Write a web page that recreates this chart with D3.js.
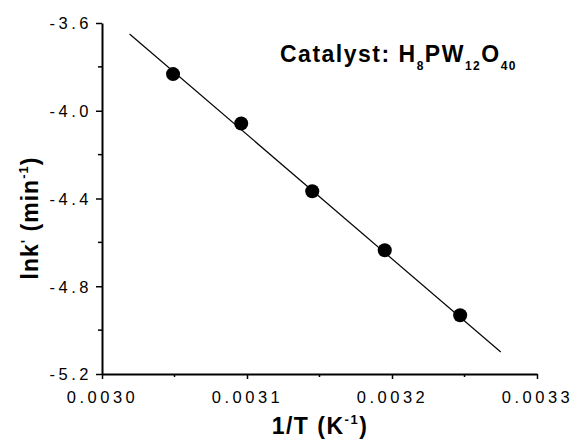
<!DOCTYPE html>
<html>
<head>
<meta charset="utf-8">
<script src="https://cdn.jsdelivr.net/npm/d3@7/dist/d3.min.js"></script>
<style>
	body { margin: 0; background: #fff; }
	text { font-family: "Liberation Sans", Arial, sans-serif; fill: #000; }
	.tick-label { font-size: 16.5px; letter-spacing: 3.5px; }
	.axis-title { font-size: 23px; font-weight: bold; }
</style>
</head>
<body>
<div id="chart"></div>
<script>
			//Width and height
			var w = 572, h = 443;

			// Arrhenius points: 1/T (K^-1) and lnk'
			var invT = [0.003049, 0.003096, 0.003145, 0.003195, 0.003247];
			var lnk = [-3.833, -4.058, -4.367, -4.636, -4.932];

			// Ends of the fitted line
			var fitX = [0.003019, 0.003275];
			var fitY = [-3.65, -5.10];

			// Tick values
			var xTicks = [0.0030, 0.0031, 0.0032, 0.0033];
			var yTicks = [-3.6, -4.0, -4.4, -4.8, -5.2];
			var xMinor = [0.00305, 0.00315, 0.00325];
			var yMinor = [-3.8, -4.2, -4.6, -5.0];

			var svg = d3.select("#chart")
						.append("svg")
						.attr("width", w)
						.attr("height", h);

			// Scales
			var x = d3.scaleLinear()
						.domain([0.0030, 0.0033])
						.range([102, 537]);

			var y = d3.scaleLinear()
						.domain([-3.6, -5.2])
						.range([23, 374]);

			// plain hyphen instead of the unicode minus
			var fmtY = function(d) { return d3.format(".1f")(d).replace("\u2212", "-"); };

			// Axes, left and bottom only
			var xAxis = svg.append("g")
						.attr("transform", "translate(0," + y(-5.2) + ")")
						.call(d3.axisBottom(x).tickValues(xTicks).tickSize(5).tickSizeOuter(0).tickFormat(d3.format(".4f")));

			var yAxis = svg.append("g")
						.attr("transform", "translate(" + x(0.0030) + ",0)")
						.call(d3.axisLeft(y).tickValues(yTicks).tickSize(6).tickSizeOuter(0).tickFormat(fmtY));

			[xAxis, yAxis].forEach(function(a) {
				a.select(".domain").attr("stroke", "#000").attr("stroke-width", 2);
				a.selectAll(".tick line").attr("stroke", "#000").attr("stroke-width", 1.5);
				a.selectAll(".tick text").attr("class", "tick-label").attr("font-size", null).attr("font-family", null);
			});
			xAxis.selectAll(".tick text").attr("dy", null).attr("y", 29);
			yAxis.selectAll(".tick text").attr("x", -10).attr("dy", "0.36em");

			// Minor ticks
			svg.append("g").selectAll("line")
				.data(xMinor)
				.enter().append("line")
				.attr("x1", function(d) { return x(d); }).attr("x2", function(d) { return x(d); })
				.attr("y1", y(-5.2)).attr("y2", y(-5.2) + 3)
				.attr("stroke", "#000").attr("stroke-width", 1.5);

			svg.append("g").selectAll("line")
				.data(yMinor)
				.enter().append("line")
				.attr("x1", x(0.0030) - 4).attr("x2", x(0.0030))
				.attr("y1", function(d) { return y(d); }).attr("y2", function(d) { return y(d); })
				.attr("stroke", "#000").attr("stroke-width", 1.5);

			// Fitted line
			svg.append("path")
				.datum(d3.zip(fitX, fitY))
				.attr("fill", "none")
				.attr("stroke", "#000")
				.attr("stroke-width", 1.2)
				.attr("d", d3.line()
					.x(function(d) { return x(d[0]); })
					.y(function(d) { return y(d[1]); }));

			// Data points
			svg.append("g").selectAll("circle")
				.data(d3.zip(invT, lnk))
				.enter().append("circle")
				.attr("cx", function(d) { return x(d[0]); })
				.attr("cy", function(d) { return y(d[1]); })
				.attr("r", 7)
				.attr("fill", "#000");

			// Axis titles
			var xTitle = svg.append("text")
				.attr("class", "axis-title")
				.attr("x", 320).attr("y", 434)
				.attr("text-anchor", "middle")
				.style("letter-spacing", "1.5px");
			xTitle.append("tspan").text("1/T (K");
			xTitle.append("tspan").text("-1").attr("font-size", 13).attr("dy", -10);
			xTitle.append("tspan").text(")").attr("dy", 10);

			var yTitle = svg.append("text")
				.attr("class", "axis-title")
				.attr("transform", "translate(38,218) rotate(-90)")
				.attr("text-anchor", "middle")
				.style("letter-spacing", "1px");
			yTitle.append("tspan").text("lnk");
			yTitle.append("tspan").text("'").attr("font-size", 14).attr("dy", -7);
			yTitle.append("tspan").text(" (min").attr("dy", 7);
			yTitle.append("tspan").text("-1").attr("font-size", 13).attr("dy", -10);
			yTitle.append("tspan").text(")").attr("dy", 10);

			// Catalyst annotation
			var note = svg.append("text")
				.attr("x", 280).attr("y", 62)
				.attr("font-size", 23).attr("font-weight", "bold")
				.style("letter-spacing", "1.5px");
			note.append("tspan").text("Catalyst: H");
			note.append("tspan").text("8").attr("font-size", 12).attr("dy", 8);
			note.append("tspan").text("PW").attr("dy", -8);
			note.append("tspan").text("12").attr("font-size", 12).attr("dy", 8);
			note.append("tspan").text("O").attr("dy", -8);
			note.append("tspan").text("40").attr("font-size", 12).attr("dy", 8);
</script>
</body>
</html>
